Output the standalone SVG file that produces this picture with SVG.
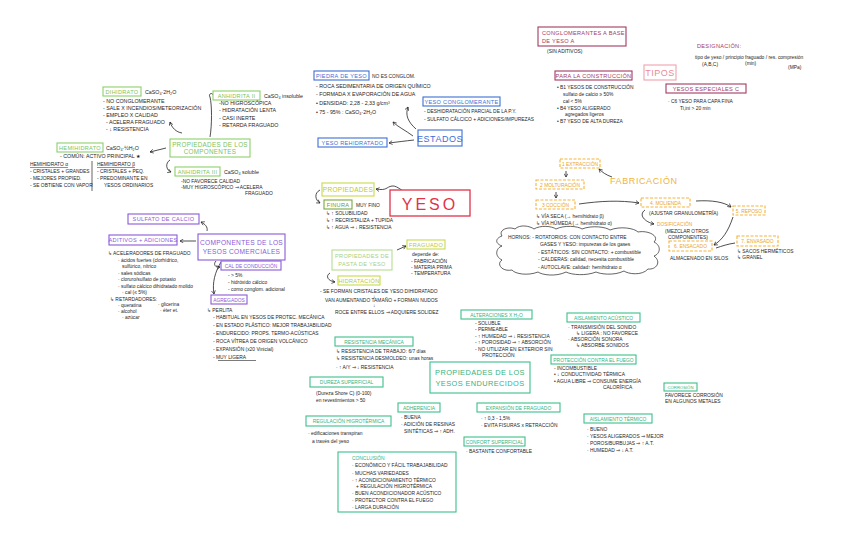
<svg xmlns="http://www.w3.org/2000/svg" width="848" height="550" viewBox="0 0 848 550">
<defs>
<marker id="ah" viewBox="0 0 10 10" refX="8" refY="5" markerWidth="6" markerHeight="6" orient="auto-start-reverse">
<path d="M1,1 L8,5 L1,9" fill="none" stroke="#222" stroke-width="1.4"/>
</marker>
<style>
text{font-family:"Liberation Sans",Arial,sans-serif;}
.t{font-size:5.3px;fill:#1e1e1e;}
.s{font-size:4.9px;fill:#1e1e1e;}
.bx{fill:#fff;stroke-width:1.1;}
.lb{font-size:5.6px;letter-spacing:0.3px;}
.gc{stroke:#8ccf6a;} .gct{fill:#7cc35a;}
.bl{stroke:#3b6fd6;} .blt{fill:#3b6fd6;}
.mr{stroke:#a33a62;} .mrt{fill:#a33a62;}
.or{stroke:#f3b43a;stroke-dasharray:3 1.5;} .ort{fill:#eaa52a;}
.pu{stroke:#8a5ad8;} .put{fill:#8a5ad8;}
.yg{stroke:#c8da4a;} .ygt{fill:#b5c838;}
.lg{stroke:#b6dc92;} .lgt{fill:#a6d07e;}
.tl{stroke:#3cc08a;} .tlt{fill:#34b37e;}
.cn{fill:none;stroke:#222;stroke-width:0.8;}
</style>
</defs>
<rect width="848" height="550" fill="#fff"/>

<g id="connectors">
<path class="cn" d="M182,133 C176,132 172,128 170,122" marker-end="url(#ah)"/>
<path class="cn" d="M210,137 C212,125 212,105 210,97 C208,94 212,92 213,95"/>
<path class="cn" d="M166,148 L150,152" marker-end="url(#ah)"/>
<path class="cn" d="M170,160 C165,163 166,170 171,172" marker-end="url(#ah)"/>
<path class="cn" d="M416,129 C408,122 405,115 408,107" marker-end="url(#ah)"/>
<path class="cn" d="M413,136 C405,130 398,127 393,122" marker-end="url(#ah)"/>
<path class="cn" d="M414,140 C405,141 397,142 389,143" marker-end="url(#ah)"/>
<path class="cn" d="M612,177 C606,175 602,172 599,169" marker-end="url(#ah)"/>
<path class="cn" d="M566,171 L566,177" marker-end="url(#ah)"/>
<path class="cn" d="M556,192 L556,198" marker-end="url(#ah)"/>
<path class="cn" d="M579,204 C600,201 620,200 639,203" marker-end="url(#ah)"/>
<path class="cn" d="M645,210 C638,215 645,222 654,224" marker-end="url(#ah)"/>
<path class="cn" d="M696,201 C712,200 724,202 731,207" marker-end="url(#ah)"/>
<path class="cn" d="M733,217 C728,232 722,240 714,245" marker-end="url(#ah)"/>
<path class="cn" d="M716,248 C722,246 728,244 735,243"/>
<path class="cn" d="M412,194 C405,195 398,185 392,186 C386,187 387,191 376,189" marker-end="url(#ah)"/>
<path class="cn" d="M320,190 C314,193 315,200 320,203" marker-end="url(#ah)"/>
<path class="cn" d="M397,250 L406,246" marker-end="url(#ah)"/>
<path class="cn" d="M330,273 C325,276 328,281 335,282" marker-end="url(#ah)"/>
<path class="cn" d="M207,231 C208,227 205,224 201,222" marker-end="url(#ah)"/>
<path class="cn" d="M196,241 L180,241" marker-end="url(#ah)"/>
<path class="cn" d="M216,261 C213,264 215,268 220,267" marker-end="url(#ah)"/>
<path class="cn" d="M221,262 C215,272 212,283 214,294" marker-end="url(#ah)"/>
</g>

<!-- COMPONENTES -->
<g id="n-dihidrato">
<rect class="bx gc" x="103" y="87" width="38" height="9"/>
<text class="lb gct" x="122" y="93.8" text-anchor="middle">DIHIDRATO</text>
<text class="t" x="145" y="94">CaSO₄·2H₂O</text>
<text class="t" x="103" y="103">- NO CONGLOMERANTE</text>
<text class="t" x="103" y="110">- SALE X INCENDIOS/METEORIZACIÓN</text>
<text class="t" x="103" y="117">- EMPLEO X CALIDAD</text>
<text class="t" x="106" y="124">- ACELERA FRAGUADO</text>
<text class="t" x="106" y="131">- ↓ RESISTENCIA</text>
</g>
<g id="n-anhidrita2">
<rect class="bx gc" x="213" y="91" width="47" height="9"/>
<text class="lb gct" x="236.5" y="97.8" text-anchor="middle">ANHIDRITA II</text>
<text class="t" x="264" y="98">CaSO₄ insoluble</text>
<text class="t" x="219" y="105">-NO HIGROSCÓPICA</text>
<text class="t" x="219" y="112">- HIDRATACIÓN LENTA</text>
<text class="t" x="219" y="120">- CASI INERTE</text>
<text class="t" x="219" y="127">- RETARDA FRAGUADO</text>
</g>
<g id="n-propcomp">
<rect class="bx gc" x="170" y="139" width="80" height="18"/>
<text class="lb gct" x="210" y="146.5" text-anchor="middle" style="font-size:6.3px">PROPIEDADES DE LOS</text>
<text class="lb gct" x="210" y="154" text-anchor="middle" style="font-size:6.3px">COMPONENTES</text>
</g>
<g id="n-hemihidrato">
<rect class="bx gc" x="57" y="143" width="46" height="9"/>
<text class="lb gct" x="80" y="149.8" text-anchor="middle">HEMIHIDRATO</text>
<text class="t" x="106" y="150">CaSO₄·½H₂O</text>
<text class="t" x="60" y="158">- COMÚN: ACTIVO PRINCIPAL ★</text>
<text class="s" x="30" y="166" text-decoration="underline">HEMIHIDRATO α</text>
<text class="s" x="30" y="173">- CRISTALES + GRANDES</text>
<text class="s" x="30" y="180">- MEJORES PROPIED.</text>
<text class="s" x="30" y="187">- SE OBTIENE CON VAPOR</text>
<line x1="92" y1="161" x2="92" y2="191" stroke="#222" stroke-width="0.7"/>
<text class="s" x="97" y="166" text-decoration="underline">HEMIHIDRATO β</text>
<text class="s" x="97" y="173">- CRISTALES + PEQ.</text>
<text class="s" x="97" y="180">- PREDOMINANTE EN</text>
<text class="s" x="104" y="187">YESOS ORDINARIOS</text>
</g>
<g id="n-anhidrita3">
<rect class="bx gc" x="175" y="167" width="45" height="9"/>
<text class="lb gct" x="197.5" y="173.8" text-anchor="middle">ANHIDRITA III</text>
<text class="t" x="224" y="174">CaSO₄ soluble</text>
<text class="s" x="181" y="183">-NO FAVORECE CALIDAD</text>
<text class="s" x="181" y="189">-MUY HIGROSCÓPICO ⇒ ACELERA</text>
<text class="s" x="245" y="195">FRAGUADO</text>
</g>

<!-- ESTADOS -->
<g id="n-piedra">
<rect class="bx bl" x="314" y="71" width="55" height="9"/>
<text class="lb blt" x="341.5" y="77.8" text-anchor="middle">PIEDRA DE YESO</text>
<text class="s" x="372" y="78">NO ES CONGLOM.</text>
<text class="t" x="316" y="88">- ROCA SEDIMENTARIA DE ORIGEN QUÍMICO</text>
<text class="t" x="316" y="96">- FORMADA X EVAPORACIÓN DE AGUA</text>
<text class="t" x="316" y="105">• DENSIDAD: 2,28 - 2,33 g/cm³</text>
<text class="t" x="316" y="114">• 75 - 95% : CaSO₄·2H₂O</text>
</g>
<g id="n-conglomerante">
<rect class="bx bl" x="423" y="97" width="77" height="9"/>
<text class="lb blt" x="461.5" y="103.8" text-anchor="middle">YESO CONGLOMERANTE</text>
<text class="s" x="424" y="113">- DESHIDRATACIÓN PARCIAL DE LA P.Y.</text>
<text class="s" x="424" y="121">- SULFATO CÁLCICO + ADICIONES/IMPUREZAS</text>
</g>
<g id="n-estados">
<rect class="bx bl" x="418" y="130" width="44" height="16"/>
<text class="blt" x="440" y="141.5" text-anchor="middle" style="font-size:9px;letter-spacing:0.5px">ESTADOS</text>
</g>
<g id="n-rehidratado">
<rect class="bx bl" x="318" y="138" width="69" height="9"/>
<text class="lb blt" x="352.5" y="144.8" text-anchor="middle">YESO REHIDRATADO</text>
</g>

<!-- TIPOS -->
<g id="n-conglomerantesA">
<rect class="bx mr" x="538" y="27" width="88" height="19"/>
<text class="lb mrt" x="542" y="35">CONGLOMERANTES A BASE</text>
<text class="lb mrt" x="542" y="43">DE YESO A</text>
<text class="s" x="547" y="53">(SIN ADITIVOS)</text>
</g>
<g id="n-designacion">
<text class="lb mrt" x="697" y="48">DESIGNACIÓN:</text>
<text class="s" x="695" y="59">tipo de yeso / principio fraguado / res. compresión</text>
<text class="s" x="702" y="66">(A,B,C)</text>
<text class="s" x="745" y="65">(min)</text>
<text class="s" x="788" y="69">(MPa)</text>
</g>
<g id="n-tipos">
<rect class="bx" x="644" y="65" width="32" height="15" stroke="#efa2ae" stroke-width="1.1"/>
<text x="660" y="76" text-anchor="middle" style="font-size:9px;fill:#e98a9b;letter-spacing:0.5px">TIPOS</text>
</g>
<g id="n-construccion">
<rect class="bx mr" x="555" y="71" width="77" height="9"/>
<text class="lb mrt" x="593.5" y="77.8" text-anchor="middle">PARA LA CONSTRUCCIÓN</text>
<text class="s" x="557" y="89">• B1 YESOS DE CONSTRUCCIÓN</text>
<text class="s" x="563" y="96">sulfato de calcio ≥ 50%</text>
<text class="s" x="563" y="103">cal &lt; 5%</text>
<text class="s" x="557" y="110">• B4 YESO ALIGERADO</text>
<text class="s" x="565" y="116">agregados ligeros</text>
<text class="s" x="557" y="123">• B7 YESO DE ALTA DUREZA</text>
</g>
<g id="n-especiales">
<rect class="bx mr" x="666" y="84" width="80" height="9"/>
<text class="lb mrt" x="706" y="90.8" text-anchor="middle">YESOS ESPECIALES C</text>
<text class="s" x="668" y="103">· C6 YESO PARA CAPA FINA</text>
<text class="s" x="680" y="110">Ti,ini &gt; 20 min</text>
</g>

<!-- FABRICACION -->
<g id="n-fabricacion">
<text x="610" y="184" style="font-size:9px;fill:#f0b440;letter-spacing:0.6px">FABRICACIÓN</text>
</g>
<g id="n-extraccion">
<rect class="bx or" x="560" y="159" width="40" height="9"/>
<text class="s ort" x="580" y="165.5" text-anchor="middle">1 EXTRACCIÓN</text>
</g>
<g id="n-molturacion">
<rect class="bx or" x="536" y="180" width="48" height="9"/>
<text class="s ort" x="560" y="186.5" text-anchor="middle">2 MOLTURACIÓN</text>
</g>
<g id="n-coccion">
<rect class="bx or" x="536" y="200" width="39" height="9"/>
<text class="s ort" x="555.5" y="206.5" text-anchor="middle">3 COCCIÓN</text>
<text class="s" x="536" y="218">↳ VÍA SECA (→ hemihidrato β)</text>
<text class="s" x="536" y="225">↳ VÍA HÚMEDA (→ hemihidrato α)</text>
</g>
<g id="n-hornos">
<path d="M502,236 C498,230 508,226 515,229 C520,224 530,226 534,229 C540,225 552,226 556,229 C564,225 578,226 582,229 C592,225 606,227 610,230 C620,226 634,228 638,232 C648,230 660,236 654,242 C662,246 660,254 654,256 C662,262 656,270 648,269 C642,276 628,274 624,271 C614,276 600,274 596,272 C586,276 572,275 566,272 C556,277 542,275 538,272 C528,276 515,274 512,270 C502,272 496,264 502,260 C494,256 496,248 502,246 C494,243 496,238 502,236 Z" fill="none" stroke="#222" stroke-width="0.7"/>
<text class="s" x="508" y="239">HORNOS: - ROTATORIOS: CON CONTACTO ENTRE</text>
<text class="s" x="540" y="246">GASES Y YESO: impurezas de los gases</text>
<text class="s" x="538" y="254">- ESTÁTICOS: SIN CONTACTO: + combustible</text>
<text class="s" x="538" y="261">- CALDERAS: calidad, necesita combustible</text>
<text class="s" x="538" y="269">- AUTOCLAVE: calidad↑ hemihidrato α</text>
</g>
<g id="n-molienda">
<rect class="bx or" x="641" y="198" width="49" height="9"/>
<text class="s ort" x="665.5" y="204.5" text-anchor="middle">4. MOLIENDA</text>
<text class="s" x="649" y="215">(AJUSTAR GRANULOMETRÍA)</text>
<text class="s ort" x="657" y="226">DOSIFICACIÓN</text>
<text class="s" x="665" y="233">(MEZCLAR OTROS</text>
<text class="s" x="668" y="239">COMPONENTES)</text>
</g>
<g id="n-reposo">
<rect class="bx or" x="733" y="206" width="32" height="9"/>
<text class="s ort" x="749" y="212.5" text-anchor="middle">5. REPOSO</text>
</g>
<g id="n-ensacado">
<rect class="bx or" x="669" y="241" width="43" height="10"/>
<text class="s ort" x="690.5" y="248" text-anchor="middle">6. ENSACADO</text>
<text class="s" x="670" y="260">ALMACENADO EN SILOS</text>
</g>
<g id="n-envasado">
<rect class="bx or" x="737" y="236" width="41" height="10"/>
<text class="s ort" x="757.5" y="243" text-anchor="middle">7. ENVASADO</text>
<text class="s" x="737" y="253">↳ SACOS HERMÉTICOS</text>
<text class="s" x="737" y="259">↳ GRANEL</text>
</g>

<!-- YESO -->
<g id="n-yeso">
<rect x="390" y="190" width="80" height="26" fill="#fff" stroke="#e0344a" stroke-width="1.3"/>
<text x="430" y="209.5" text-anchor="middle" style="font-size:16px;fill:#e0344a;letter-spacing:3px">YESO</text>
</g>

<!-- PROPIEDADES -->
<g id="n-propiedades">
<rect class="bx yg" x="322" y="183" width="52" height="13"/>
<text class="ygt" x="348" y="192" text-anchor="middle" style="font-size:6.5px;letter-spacing:0.3px">PROPIEDADES</text>
</g>
<g id="n-finura">
<rect class="bx" x="324" y="200" width="28" height="9" stroke="#7aa642" stroke-width="1.1"/>
<text class="lb" x="338" y="206.8" text-anchor="middle" style="fill:#6a9a3a">FINURA</text>
<text class="s" x="356" y="207">MUY FINO</text>
<text class="s" x="326" y="215">↳ ↑ SOLUBILIDAD</text>
<text class="s" x="326" y="222">↳ ↑ RECRISTALIZA + TUPIDA</text>
<text class="s" x="326" y="229">↳ ↑ AGUA ⇒ ↓ RESISTENCIA</text>
</g>
<g id="n-pasta">
<rect class="bx lg" x="332" y="250" width="60" height="20"/>
<text class="lb lgt" x="362" y="258" text-anchor="middle">PROPIEDADES DE</text>
<text class="lb lgt" x="362" y="266" text-anchor="middle">PASTA DE YESO</text>
</g>
<g id="n-fraguado">
<rect class="bx yg" x="407" y="240" width="38" height="9"/>
<text class="lb ygt" x="426" y="246.8" text-anchor="middle">FRAGUADO</text>
<text class="s" x="412" y="256">depende de:</text>
<text class="s" x="411" y="263">- FABRICACIÓN</text>
<text class="s" x="411" y="269">- MATERIA PRIMA</text>
<text class="s" x="411" y="275">- TEMPERATURA</text>
</g>
<g id="n-hidratacion">
<rect class="bx yg" x="338" y="276" width="42" height="9"/>
<text class="lb ygt" x="359" y="282.8" text-anchor="middle">HIDRATACIÓN</text>
<text class="s" x="320" y="293">- SE FORMAN CRISTALES DE YESO DIHIDRATADO</text>
<text class="s" x="373" y="298">↓</text>
<text class="s" x="325" y="302">VAN AUMENTANDO TAMAÑO + FORMAN NUDOS</text>
<text class="s" x="373" y="307">↓</text>
<text class="s" x="335" y="314">ROCE ENTRE ELLOS ⇒ ADQUIERE SOLIDEZ</text>
</g>

<!-- COMPONENTES COMERCIALES -->
<g id="n-sulfato">
<rect class="bx pu" x="128" y="214" width="71" height="10"/>
<text class="lb put" x="163.5" y="221.3" text-anchor="middle">SULFATO DE CALCIO</text>
</g>
<g id="n-aditivos">
<rect class="bx pu" x="109" y="235" width="68" height="10"/>
<text class="lb put" x="143" y="242.3" text-anchor="middle">ADITIVOS + ADICIONES</text>
<text class="s" x="108" y="255">↳ ACELERADORES DE FRAGUADO</text>
<text class="s" x="118" y="262">· ácidos fuertes (clorhídrico,</text>
<text class="s" x="122" y="268">sulfúrico, nítrico</text>
<text class="s" x="118" y="275">· sales sódicas</text>
<text class="s" x="118" y="281">· cloruro/sulfato de potasio</text>
<text class="s" x="118" y="288">· sulfato cálcico dihidratado molido</text>
<text class="s" x="122" y="294">· cal (≤ 5%)</text>
<text class="s" x="110" y="301">↳ RETARDADORES:</text>
<text class="s" x="118" y="307">· queratina</text>
<text class="s" x="158" y="306">· glicerina</text>
<text class="s" x="118" y="313">· alcohol</text>
<text class="s" x="160" y="312">· éter et.</text>
<text class="s" x="122" y="319">· azúcar</text>
</g>
<g id="n-comerciales">
<rect class="bx pu" x="198" y="234" width="87" height="26"/>
<text class="put" x="241.5" y="245" text-anchor="middle" style="font-size:6.6px;letter-spacing:0.3px">COMPONENTES DE LOS</text>
<text class="put" x="241.5" y="254" text-anchor="middle" style="font-size:6.6px;letter-spacing:0.3px">YESOS COMERCIALES</text>
</g>
<g id="n-cal">
<rect class="bx pu" x="221" y="261" width="60" height="9"/>
<text class="s put" x="251" y="267.5" text-anchor="middle">CAL DE CONDUCCIÓN</text>
<text class="s" x="228" y="277">- &gt; 5%</text>
<text class="s" x="228" y="284">- hidróxido cálcico</text>
<text class="s" x="228" y="291">- como conglom. adicional</text>
</g>
<g id="n-agregados">
<rect class="bx pu" x="211" y="295" width="36" height="9"/>
<text class="s put" x="229" y="301.5" text-anchor="middle">AGREGADOS</text>
<text class="s" x="207" y="312">↳ PERLITA</text>
<text class="s" x="213" y="319">- HABITUAL EN YESOS DE PROTEC. MECÁNICA</text>
<text class="s" x="213" y="327">- EN ESTADO PLÁSTICO: MEJOR TRABAJABILIDAD</text>
<text class="s" x="213" y="335">- ENDURECIDO: PROPS. TERMO-ACÚSTICAS</text>
<text class="s" x="213" y="343">- ROCA VÍTREA DE ORIGEN VOLCÁNICO</text>
<text class="s" x="213" y="351">- EXPANSIÓN (x20 Vinicial)</text>
<text class="s" x="213" y="359">- MUY LIGERA</text>
<line x1="218" y1="360.5" x2="256" y2="360.5" stroke="#222" stroke-width="0.6"/>
</g>

<!-- ENDURECIDOS -->
<g id="n-endurecidos">
<rect class="bx tl" x="430" y="362" width="100" height="31"/>
<text class="tlt" x="480" y="375" text-anchor="middle" style="font-size:7.4px;letter-spacing:0.4px">PROPIEDADES DE LOS</text>
<text class="tlt" x="480" y="386" text-anchor="middle" style="font-size:7.4px;letter-spacing:0.4px">YESOS ENDURECIDOS</text>
</g>
<g id="n-alteraciones">
<rect class="bx tl" x="461" y="310" width="71" height="9"/>
<text class="s tlt" x="496.5" y="316.5" text-anchor="middle">ALTERACIONES X H₂O</text>
<text class="s" x="475" y="325">- SOLUBLE</text>
<text class="s" x="475" y="331">- PERMEABLE</text>
<text class="s" x="475" y="338">- ↑ HUMEDAD ⇒ ↓ RESISTENCIA</text>
<text class="s" x="475" y="344">- ↑ POROSIDAD ⇒ ↑ ABSORCIÓN</text>
<text class="s" x="475" y="351">- NO UTILIZAR EN EXTERIOR SIN</text>
<text class="s" x="482" y="357">PROTECCIÓN</text>
</g>
<g id="n-acustico">
<rect class="bx tl" x="567" y="313" width="73" height="9"/>
<text class="s tlt" x="603.5" y="319.5" text-anchor="middle">AISLAMIENTO ACÚSTICO</text>
<text class="s" x="568" y="329">· TRANSMISIÓN DEL SONIDO</text>
<text class="s" x="576" y="335">↳ LIGERA : NO FAVORECE</text>
<text class="s" x="568" y="341">· ABSORCIÓN SONORA</text>
<text class="s" x="576" y="347">↳ ABSORBE SONIDOS</text>
</g>
<g id="n-fuego">
<rect class="bx tl" x="551" y="355" width="85" height="9"/>
<text class="s tlt" x="593.5" y="361.5" text-anchor="middle">PROTECCIÓN CONTRA EL FUEGO</text>
<text class="s" x="554" y="370">- INCOMBUSTIBLE</text>
<text class="s" x="554" y="376">• ↓ CONDUCTIVIDAD TÉRMICA</text>
<text class="s" x="554" y="383">• AGUA LIBRE ⇒ CONSUME ENERGÍA</text>
<text class="s" x="603" y="389">CALORÍFICA</text>
</g>
<g id="n-resistencia">
<rect class="bx tl" x="335" y="337" width="78" height="9"/>
<text class="s tlt" x="374" y="343.5" text-anchor="middle">RESISTENCIA MECÁNICA</text>
<text class="s" x="336" y="353">↳ RESISTENCIA DE TRABAJO: 6/7 días</text>
<text class="s" x="336" y="360">↳ RESISTENCIA DESMOLDEO: unas horas</text>
<text class="s" x="336" y="369">· ↑ A/Y ⇒ ↓ RESISTENCIA</text>
</g>
<g id="n-dureza">
<rect class="bx tl" x="310" y="377" width="73" height="10"/>
<text class="s tlt" x="346.5" y="384" text-anchor="middle">DUREZA SUPERFICIAL</text>
<text class="s" x="316" y="395">(Dureza Shore C) (0-100)</text>
<text class="s" x="316" y="402">en revestimientos &gt; 50</text>
</g>
<g id="n-corrosion">
<rect class="bx tl" x="664" y="383" width="33" height="8"/>
<text class="s tlt" x="680.5" y="388.8" text-anchor="middle" style="font-size:4.2px">CORROSIÓN</text>
<text class="s" x="665" y="397">FAVORECE CORROSIÓN</text>
<text class="s" x="665" y="403">EN ALGUNOS METALES</text>
</g>
<g id="n-adherencia">
<rect class="bx tl" x="398" y="403" width="42" height="9"/>
<text class="s tlt" x="419" y="409.5" text-anchor="middle">ADHERENCIA</text>
<text class="s" x="401" y="419">· BUENA</text>
<text class="s" x="401" y="426">· ADICIÓN DE RESINAS</text>
<text class="s" x="404" y="433">SINTÉTICAS ⇒ ↑ ADH.</text>
</g>
<g id="n-expansion">
<rect class="bx tl" x="477" y="403" width="83" height="9"/>
<text class="s tlt" x="518.5" y="409.5" text-anchor="middle">EXPANSIÓN DE FRAGUADO</text>
<text class="s" x="481" y="420">· ↑ 0,3 - 1,5%</text>
<text class="s" x="481" y="427">· EVITA FISURAS x RETRACCIÓN</text>
</g>
<g id="n-termico">
<rect class="bx tl" x="584" y="414" width="68" height="9"/>
<text class="s tlt" x="618" y="420.5" text-anchor="middle">AISLAMIENTO TÉRMICO</text>
<text class="s" x="587" y="431">· BUENO</text>
<text class="s" x="587" y="438">· YESOS ALIGERADOS ⇒ MEJOR</text>
<text class="s" x="587" y="445">· POROS/BURBUJAS ⇒ ↑ A.T.</text>
<text class="s" x="587" y="452">· HUMEDAD ⇒ ↓ A.T.</text>
</g>
<g id="n-regulacion">
<rect class="bx tl" x="306" y="416" width="85" height="10"/>
<text class="s tlt" x="348.5" y="423" text-anchor="middle">REGULACIÓN HIGROTÉRMICA</text>
<text class="s" x="308" y="435">· edificaciones transpiran</text>
<text class="s" x="312" y="443">a través del yeso</text>
</g>
<g id="n-confort">
<rect class="bx tl" x="464" y="437" width="61" height="9"/>
<text class="s tlt" x="494.5" y="443.5" text-anchor="middle">CONFORT SUPERFICIAL</text>
<text class="s" x="466" y="453">· BASTANTE CONFORTABLE</text>
</g>
<g id="n-conclusion">
<rect class="bx tl" x="338" y="452" width="118" height="60"/>
<text class="s tlt" x="352" y="460">CONCLUSIÓN</text>
<text class="s" x="352" y="467">· ECONÓMICO Y FÁCIL TRABAJABILIDAD</text>
<text class="s" x="352" y="475">· MUCHAS VARIEDADES</text>
<text class="s" x="352" y="482">· ↑ ACONDICIONAMIENTO TÉRMICO</text>
<text class="s" x="356" y="488">+ REGULACIÓN HIGROTÉRMICA</text>
<text class="s" x="352" y="495">· BUEN ACONDICIONADOR ACÚSTICO</text>
<text class="s" x="352" y="502">· PROTECTOR CONTRA EL FUEGO</text>
<text class="s" x="352" y="509">· LARGA DURACIÓN</text>
</g>
</svg>
